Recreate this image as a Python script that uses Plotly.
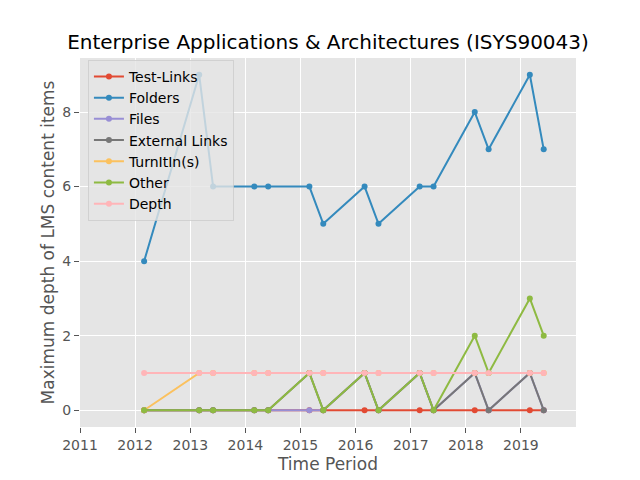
import plotly.graph_objects as go

dates = ["2012-03-01", "2013-03-01", "2013-06-01", "2014-03-01", "2014-06-01",
         "2015-03-01", "2015-06-01", "2016-03-01", "2016-06-01", "2017-03-01",
         "2017-06-01", "2018-03-01", "2018-06-01", "2019-03-01", "2019-06-01"]

test_links = [0, 0, 0, 0, 0, 0, 0, 0, 0, 0, 0, 0, 0, 0, 0]
folders = [4, 9, 6, 6, 6, 6, 5, 6, 5, 6, 6, 8, 7, 9, 7]
files = [0, 0, 0, 0, 0, 0, 0, 1, 0, 1, 0, 1, 0, 1, 0]
external_links = [0, 0, 0, 0, 0, 1, 0, 1, 0, 1, 0, 1, 0, 1, 0]
turnitin = [0, 1, 1, 1, 1, 1, 1, 1, 1, 1, 1, 1, 1, 1, 1]
other = [0, 0, 0, 0, 0, 1, 0, 1, 0, 1, 0, 2, 1, 3, 2]
depth = [1, 1, 1, 1, 1, 1, 1, 1, 1, 1, 1, 1, 1, 1, 1]

series_names = ["Test-Links", "Folders", "Files", "External Links", "TurnItIn(s)", "Other", "Depth"]
series_values = [test_links, folders, files, external_links, turnitin, other, depth]
colors = ["#E24A33", "#348ABD", "#988ED5", "#777777", "#FBC15E", "#8EBA42", "#FFB5B8"]

year_ticks = [f"{y}-01-01" for y in range(2011, 2020)]
year_labels = [str(y) for y in range(2011, 2020)]

fig = go.Figure()
for name, vals, c in zip(series_names, series_values, colors):
    fig.add_trace(go.Scatter(x=dates, y=vals, name=name, mode="lines+markers",
                             line=dict(color=c, width=2),
                             marker=dict(color=c, size=6)))

font = "DejaVu Sans, sans-serif"
fig.update_layout(
    width=640, height=480,
    margin=dict(l=80, r=64, t=58, b=53, autoexpand=False),
    paper_bgcolor="white", plot_bgcolor="#E5E5E5",
    font=dict(family=font, color="#555555", size=14),
    title=dict(text="Enterprise Applications & Architectures (ISYS90043)",
               font=dict(family=font, size=20, color="black"),
               x=0.5, xref="paper", xanchor="center",
               y=1 - 42 / 480, yref="container", yanchor="middle"),
    legend=dict(x=0.016, y=0.995, xanchor="left", yanchor="top",
                bgcolor="rgba(229,229,229,0.8)", bordercolor="rgba(204,204,204,0.8)",
                borderwidth=1, font=dict(family=font, size=14, color="black"),
                tracegroupgap=0),
    showlegend=True,
)
fig.update_xaxes(type="date", range=["2011-01-01", "2020-01-01"],
                 tickvals=year_ticks, ticktext=year_labels, automargin=False,
                 showgrid=True, gridcolor="white", gridwidth=1, zeroline=False,
                 ticks="outside", ticklen=5, tickcolor="#555555",
                 tickfont=dict(size=14, color="#555555"),
                 title=dict(text="Time Period", font=dict(size=17, color="#555555"), standoff=6),
                 showline=False)
fig.update_yaxes(range=[-0.45, 9.45], tickvals=[0, 2, 4, 6, 8], automargin=False,
                 showgrid=True, gridcolor="white", gridwidth=1, zeroline=False,
                 ticks="outside", ticklen=5, tickcolor="#555555",
                 tickfont=dict(size=14, color="#555555"),
                 title=dict(text="Maximum depth of LMS content items",
                            font=dict(size=17, color="#555555"), standoff=3),
                 showline=False)

fig.write_html("out.html", config={"displayModeBar": False},
               post_script="document.body.style.margin='0';")
